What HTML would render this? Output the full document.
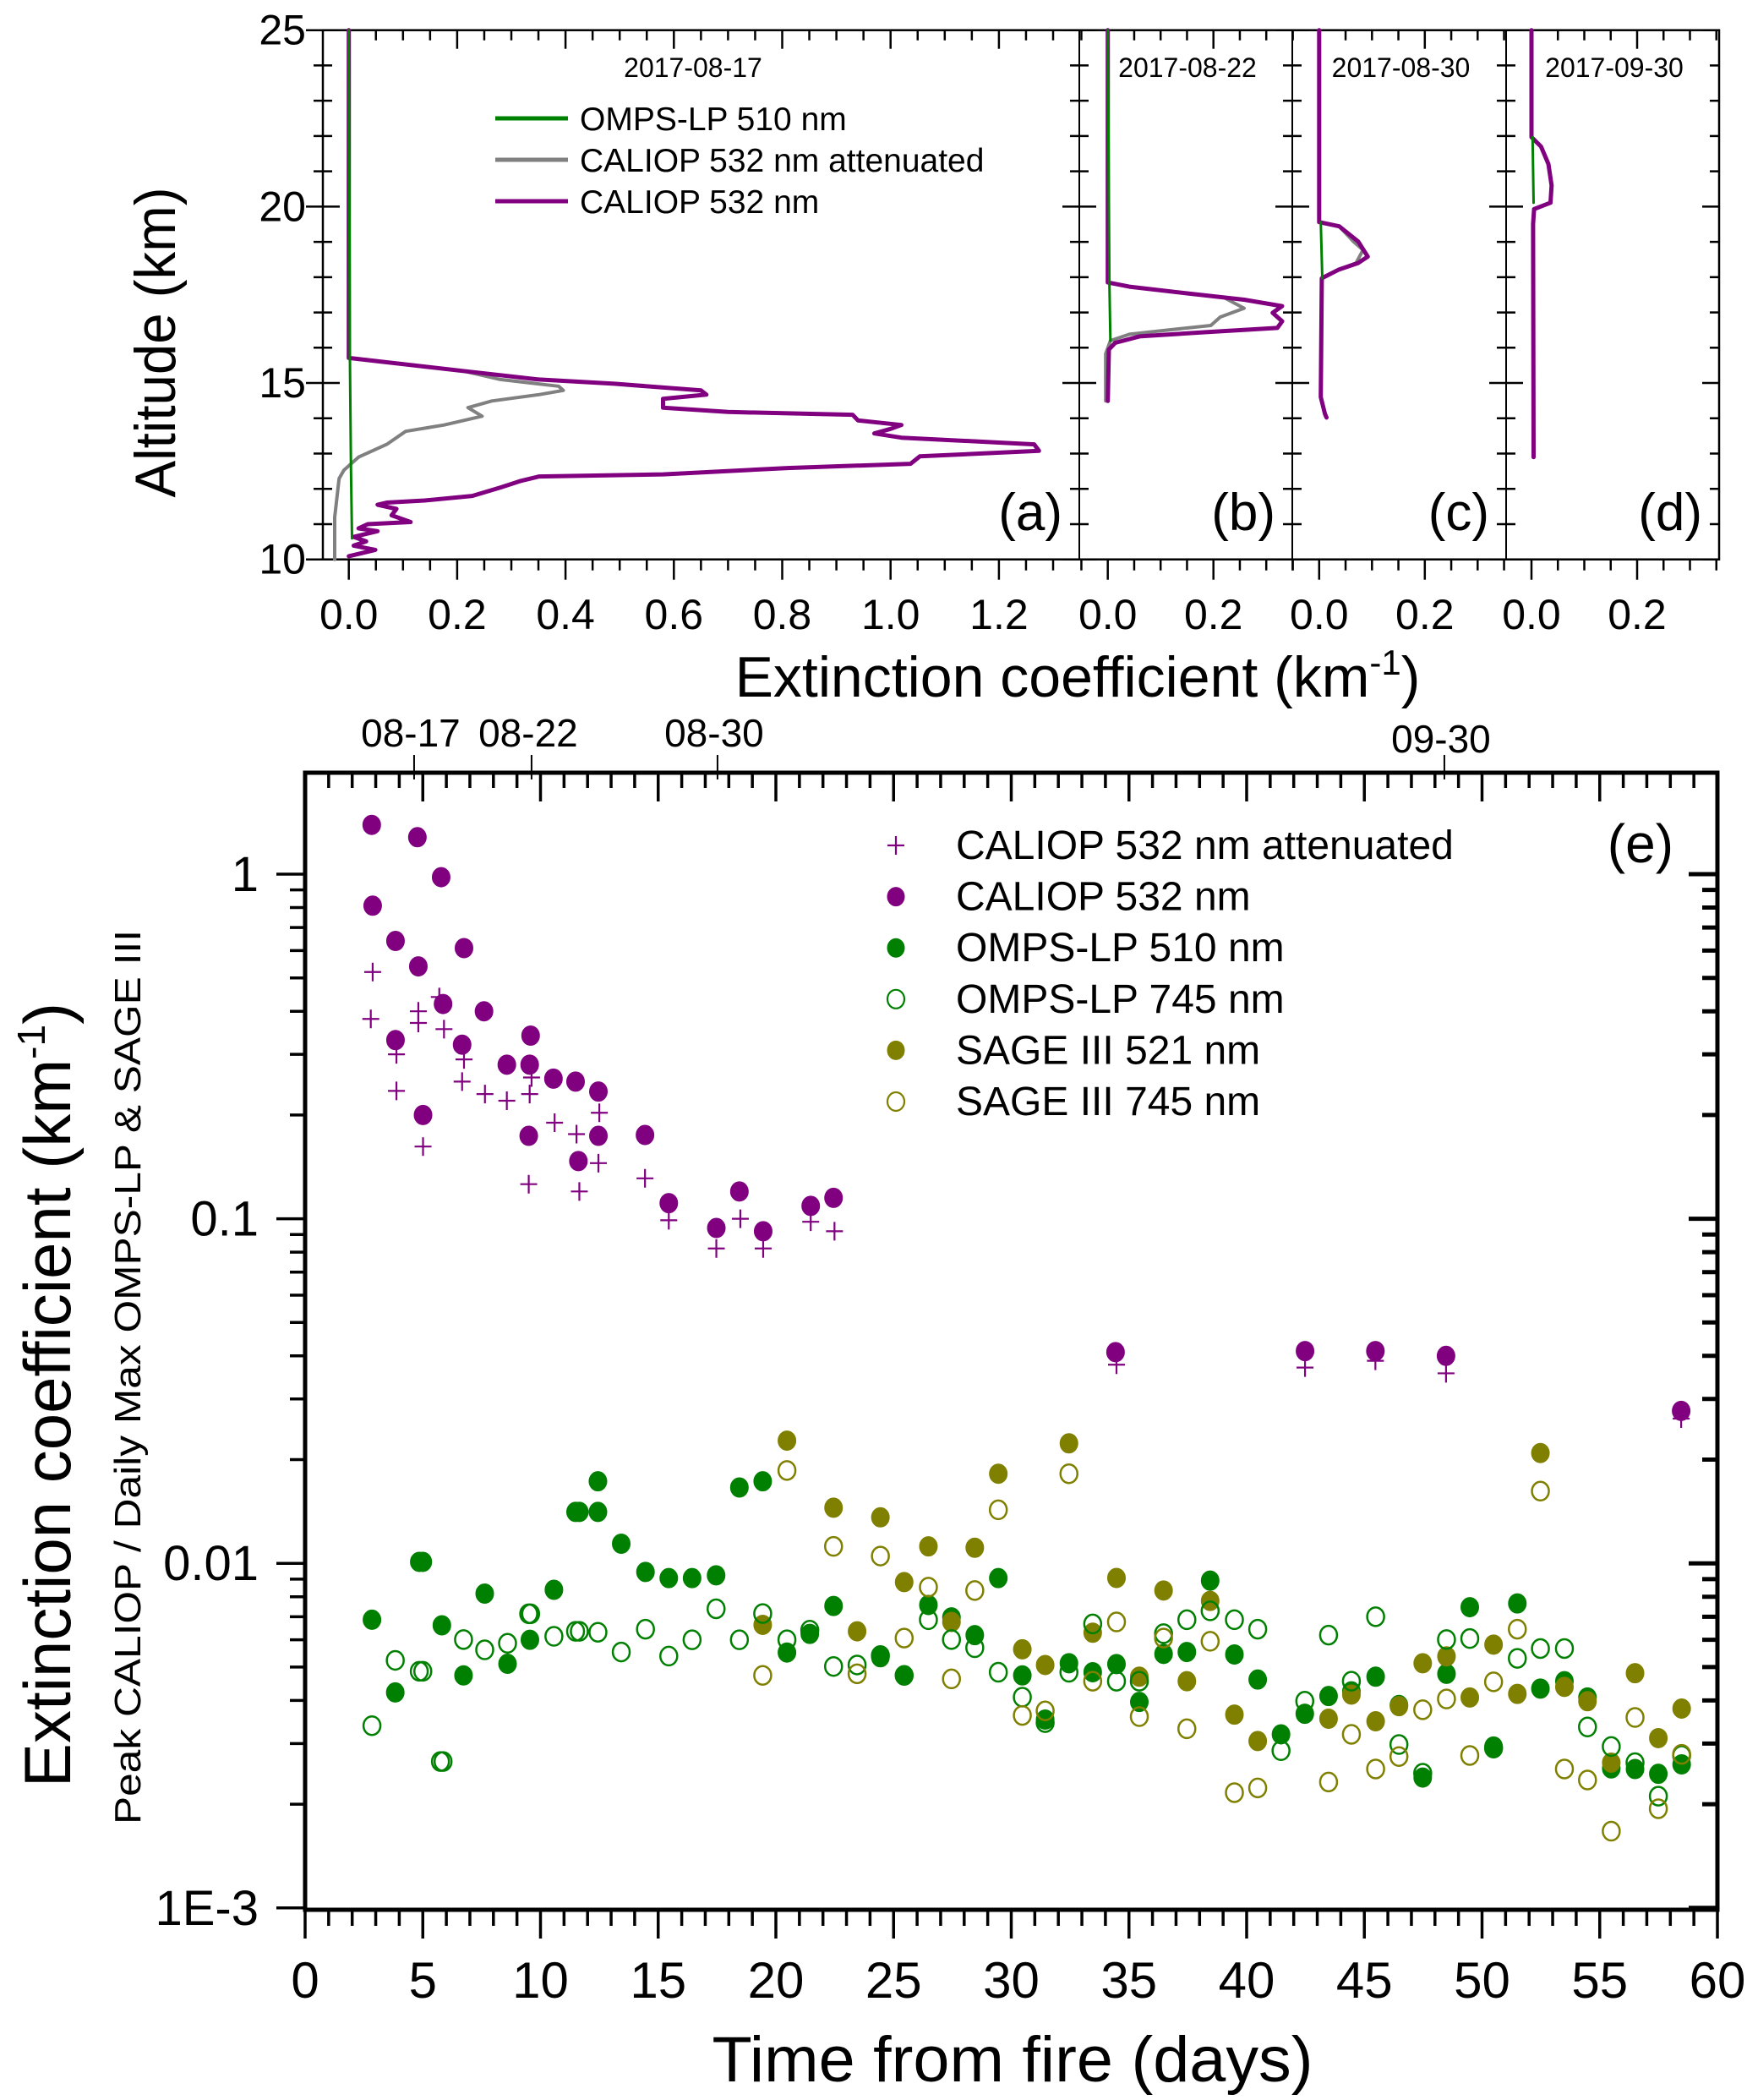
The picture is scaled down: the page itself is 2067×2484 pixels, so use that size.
<!DOCTYPE html>
<html><head><meta charset="utf-8"><title>Smoke extinction profiles and time series</title>
<style>
html,body{margin:0;padding:0;background:#fff;}
svg{display:block;font-family:"Liberation Sans",Arial,sans-serif;}
</style></head>
<body>
<svg id="fig" width="2067" height="2484" viewBox="0 0 2067 2484" xmlns="http://www.w3.org/2000/svg">
<rect x="0" y="0" width="2067" height="2484" fill="#fff"/>
<g id="topPanels"></g>
<g id="bottom"></g>
</svg>
<script>
// ---------- Top panel profile data (altitude km, extinction km^-1) ----------
const aCaliopAlt = [25,15.71,15.34,15.1,14.98,14.79,14.67,14.55,14.3,14.18,14.1,13.94,13.81,13.7,13.57,13.45,13.26,13.08,12.92,12.71,12.59,12.41,12.35,12.22,12.04,11.8,11.67,11.61,11.55,11.43,11.25,11.06,11.0,10.88,10.8,10.64,10.51,10.39,10.27,10.09];
const aCaliopExt = [0,0,0.211,0.351,0.49,0.65,0.66,0.58,0.58,0.70,0.93,0.94,1.02,1.0,0.97,1.02,1.265,1.274,1.054,1.037,0.81,0.58,0.351,0.316,0.28,0.228,0.14,0.07,0.053,0.088,0.079,0.114,0.035,0.018,0.053,0.009,0.032,0.009,0.049,0];
const aAttAlt = [15.71,15.34,15.1,14.91,14.79,14.67,14.49,14.3,14.06,13.81,13.63,13.26,12.9,12.53,12.29,11.19,10];
const aAttExt = [0,0.211,0.28,0.387,0.396,0.351,0.264,0.22,0.246,0.176,0.105,0.07,0.018,-0.009,-0.018,-0.026,-0.026];
const aOmpsAlt = [25,15.7,12.5,10.6];
const aOmpsExt = [0,0.002,0.004,0.006];
const bCaliopAlt = [25,17.85,17.73,17.54,17.36,17.18,16.99,16.75,16.56,16.44,16.32,16.14,15.95,14.49];
const bCaliopExt = [0,0,0.041,0.15,0.258,0.33,0.312,0.33,0.321,0.186,0.06,0.014,0.002,0];
const bAttAlt = [17.85,17.73,17.54,17.42,17.12,16.87,16.63,16.5,16.38,16.2,15.83,14.49];
const bAttExt = [0,0.041,0.15,0.22,0.258,0.213,0.195,0.114,0.041,0.005,-0.004,-0.004];
const bOmpsAlt = [25,17.85,16.2];
const bOmpsExt = [0,0.003,0.005];
const cCaliopAlt = [25,19.56,19.44,19.01,18.58,18.4,18.22,17.97,14.6,14.12,14.02];
const cCaliopExt = [0,0,0.038,0.074,0.092,0.074,0.038,0.005,0.003,0.011,0.014];
const cAttAlt = [19.44,19.01,18.77,18.4,18.22];
const cAttExt = [0.038,0.065,0.083,0.07,0.038];
const cOmpsAlt = [19.56,17.97];
const cOmpsExt = [0.003,0.006];
const dCaliopAlt = [25,21.97,21.7,21.21,20.6,20.11,19.93,19.5,12.9];
const dCaliopExt = [0,0,0.018,0.032,0.038,0.036,0.005,0.003,0.004];
const dOmpsAlt = [21.97,20.11];
const dOmpsExt = [0.002,0.004];
const panelDates = ["2017-08-17","2017-08-22","2017-08-30","2017-09-30"];
const panelLetters = ["(a)","(b)","(c)","(d)"];
const altTicks = [10,15,20,25];

// ---------- Bottom panel data ----------
const caliopDays = [2.83,2.87,3.84,4.77,4.81,5.78,5.86,6.75,3.84,6.67,5.01,7.60,8.57,9.58,9.54,9.50,10.55,11.49,12.46,12.46,11.61,14.44,15.45,17.47,18.45,19.46,21.48,22.45,34.43,42.48,45.47,48.47,58.46];
const caliopVals = [1.39,0.81,0.64,1.28,0.54,0.98,0.42,0.61,0.33,0.32,0.20,0.40,0.28,0.34,0.28,0.174,0.255,0.25,0.234,0.174,0.147,0.175,0.111,0.094,0.12,0.092,0.109,0.115,0.041,0.0413,0.0413,0.040,0.0277];
const attDays = [2.87,2.79,3.88,3.88,4.81,4.81,5.70,5.90,5.01,6.75,6.67,7.64,8.57,9.54,9.62,9.50,10.6,11.53,12.5,12.46,11.65,14.44,15.45,17.47,18.49,19.46,21.48,22.49,34.47,42.48,45.47,48.47,58.46];
const attVals = [0.52,0.38,0.30,0.235,0.40,0.37,0.44,0.355,0.162,0.29,0.25,0.23,0.22,0.23,0.257,0.126,0.19,0.176,0.203,0.145,0.12,0.131,0.099,0.082,0.100,0.082,0.098,0.092,0.0377,0.037,0.0387,0.0356,0.0263];
const omps510Days = [2.84,3.83,4.85,5.0,5.81,6.73,7.63,8.60,9.55,10.57,11.49,11.65,12.44,12.44,13.43,14.46,15.45,16.44,17.46,18.45,19.44,20.47,21.44,22.45,24.44,25.45,26.48,27.46,28.45,29.45,30.47,31.44,32.45,33.46,34.47,35.44,36.47,37.46,38.45,39.48,40.47,41.46,42.47,43.48,44.45,45.48,46.47,47.48,48.49,49.48,50.49,51.5,52.48,53.5,54.48,55.49,56.5,57.49,58.48];
const omps510Vals = [0.00686,0.00422,0.0101,0.0101,0.00661,0.00473,0.00817,0.00511,0.0060,0.00838,0.0141,0.0141,0.0141,0.0173,0.0114,0.00944,0.00906,0.00906,0.00923,0.0166,0.0173,0.00551,0.00624,0.00752,0.00534,0.00473,0.00757,0.00697,0.00619,0.00906,0.00473,0.00352,0.00513,0.00483,0.00510,0.00396,0.00546,0.00553,0.00891,0.00544,0.00460,0.00319,0.00366,0.00412,0.00425,0.00469,0.00388,0.00239,0.00478,0.00746,0.00294,0.00765,0.00433,0.00455,0.00408,0.00254,0.00253,0.00245,0.00261];
const omps745Days = [2.84,3.83,4.85,5.0,5.75,5.86,6.73,7.63,8.60,9.50,9.58,10.57,11.49,11.65,12.44,13.43,14.46,15.45,16.44,17.46,18.45,19.44,20.47,21.44,22.45,23.45,24.44,25.45,26.48,27.46,28.45,29.45,30.47,31.44,32.45,33.46,34.47,35.44,36.47,37.46,38.45,39.48,40.47,41.46,42.47,43.48,44.45,45.48,46.47,47.48,48.49,49.48,50.49,51.5,52.48,53.5,54.48,55.49,56.5,57.49,58.48];
const omps745Vals = [0.00338,0.00523,0.00486,0.00486,0.00266,0.00266,0.00601,0.00561,0.00586,0.00714,0.00714,0.00614,0.00635,0.00635,0.00631,0.00553,0.00644,0.00538,0.0060,0.00738,0.0060,0.00715,0.0060,0.0064,0.00502,0.00507,0.0054,0.00473,0.00686,0.00601,0.00569,0.00483,0.00409,0.00345,0.00483,0.00667,0.00455,0.00455,0.00625,0.00686,0.00728,0.00686,0.00644,0.00286,0.00398,0.00619,0.00455,0.00700,0.00298,0.00246,0.00601,0.00605,0.00291,0.0053,0.00566,0.00566,0.00335,0.00294,0.00264,0.00211,0.00277];
const sageDays = [19.44,20.47,22.45,23.45,24.44,25.45,26.48,27.46,28.45,29.45,30.47,31.44,32.45,33.46,34.47,35.44,36.47,37.46,38.45,39.48,40.47,43.48,44.45,45.48,46.47,47.48,48.49,49.48,50.49,51.5,52.48,53.5,54.48,55.49,56.5,57.49,58.48];
const sage521Vals = [0.00663,0.0227,0.0145,0.00635,0.0136,0.00882,0.0112,0.00676,0.0111,0.0182,0.00563,0.00507,0.0223,0.00629,0.00907,0.00469,0.00834,0.00455,0.00778,0.00364,0.00305,0.00354,0.00416,0.00348,0.00385,0.00513,0.00537,0.00408,0.00581,0.00418,0.0209,0.00438,0.00398,0.00264,0.0048,0.00311,0.00379];
const sage745Vals = [0.00473,0.0186,0.0112,0.00478,0.0105,0.00607,0.00853,0.00462,0.00834,0.0143,0.00362,0.00373,0.0182,0.00455,0.00676,0.00359,0.00607,0.00331,0.00594,0.00216,0.00223,0.00232,0.00319,0.00253,0.00275,0.00376,0.00404,0.00277,0.00453,0.00644,0.0162,0.00253,0.00235,0.00167,0.00357,0.00194,0.00279];
const xTickLabels = [0,5,10,15,20,25,30,35,40,45,50,55,60];
const yTickVals = [1,0.1,0.01,0.001];
const yTickLabels = ["1","0.1","0.01","1E-3"];
const dateLabels = ["08-17","08-22","08-30","09-30"];
const dateDays = [4.63,9.62,17.52,48.4];

const NS = "http://www.w3.org/2000/svg";
function mk(parent, tag, attrs){const e=document.createElementNS(NS,tag);for(const k in attrs)e.setAttribute(k,attrs[k]);parent.appendChild(e);return e;}
const PURPLE="#800080", GREEN="#008000", OLIVE="#808000", GRAY="#808080";

// ================= TOP PANELS =================
const topG = document.getElementById("topPanels");
const yTopA = 35.7, yBotA = 661.7;
function altY(a){return yBotA - (a-10)*(yBotA-yTopA)/15;}
const panels = [
 {left:382, right:1277, x0:412.7, k:641},
 {left:1277, right:1529, x0:1310.7, k:625},
 {left:1529, right:1782, x0:1560.8, k:625},
 {left:1782, right:2034, x0:1812, k:625}
];
function extX(p,e){return p.x0 + e*p.k;}

panels.forEach((p,i)=>{
  for(let s=-1; s<=28; s++){
    const ev=s*0.05, x=extX(p,ev);
    if(x<p.left-0.5||x>p.right+0.5) continue;
    const major = s%4===0;
    const t=mk(topG,"line",{x1:x,y1:yBotA,x2:x,y2:yBotA+(major?24:13),stroke:"#000","stroke-width":2.5});
    
    
    const t2=mk(topG,"line",{x1:x,y1:yTopA,x2:x,y2:yTopA+(major?22:12),stroke:"#000","stroke-width":2.5});
    
    
    if(major && s>=0){
      const lab=mk(topG,"text",{x:x,y:744,"font-size":50,"text-anchor":"middle",fill:"#000"});
      lab.textContent=ev.toFixed(1);
      
      
    }
  }
  for(let a=10;a<=25;a++){
    const y=altY(a), major=a%5===0;
    const t=mk(topG,"line",{x1:p.left-(major?20:11),y1:y,x2:p.left+(major?20:11),y2:y,stroke:"#000","stroke-width":2.5});
    
    
  }
  const d=mk(topG,"text",{x:(i===0?820:(p.left+p.right)/2+2),y:91,"font-size":32,"text-anchor":"middle",fill:"#000"});
  d.textContent=panelDates[i];
  
  
  const l=mk(topG,"text",{x:p.right-20,y:627,"font-size":62,"text-anchor":"end",fill:"#000"});
  l.textContent=panelLetters[i];
  
  
});
for(let a=10;a<=25;a++){
  const y=altY(a), major=a%5===0;
  const t=mk(topG,"line",{x1:2034-(major?20:11),y1:y,x2:2034,y2:y,stroke:"#000","stroke-width":2.5});
  
  
}
const frame=mk(topG,"rect",{x:382,y:yTopA,width:2034-382,height:yBotA-yTopA,fill:"none",stroke:"#000","stroke-width":2.5});


[1277,1529,1782].forEach(x=>{
  const ln=mk(topG,"line",{x1:x,y1:yTopA,x2:x,y2:yBotA,stroke:"#000","stroke-width":2});
  
  
});
altTicks.forEach(a=>{
  const t=mk(topG,"text",{x:362,y:altY(a)+17,"font-size":50,"text-anchor":"end",fill:"#000"});
  t.textContent=String(a);
  
  
});

function profile(pi, alts, exts, color, w, name){
  const p=panels[pi];
  const pts=alts.map((a,j)=>extX(p,exts[j]).toFixed(1)+","+altY(a).toFixed(1)).join(" ");
  const pl=mk(topG,"polyline",{points:pts,fill:"none",stroke:color,"stroke-width":w,"stroke-linejoin":"round","stroke-linecap":"round"});
  
  
}
profile(0,aAttAlt,aAttExt,GRAY,4,'profile-a-caliop-attenuated');
profile(0,aCaliopAlt,aCaliopExt,PURPLE,5,'profile-a-caliop');
profile(0,aOmpsAlt,aOmpsExt,GREEN,3,'profile-a-omps');
profile(1,bAttAlt,bAttExt,GRAY,4,'profile-b-caliop-attenuated');
profile(1,bCaliopAlt,bCaliopExt,PURPLE,5,'profile-b-caliop');
profile(1,bOmpsAlt,bOmpsExt,GREEN,3,'profile-b-omps');
profile(2,cAttAlt,cAttExt,GRAY,4,'profile-c-caliop-attenuated');
profile(2,cCaliopAlt,cCaliopExt,PURPLE,5,'profile-c-caliop');
profile(2,cOmpsAlt,cOmpsExt,GREEN,3,'profile-c-omps');
profile(3,dCaliopAlt,dCaliopExt,PURPLE,5,'profile-d-caliop');
profile(3,dOmpsAlt,dOmpsExt,GREEN,3,'profile-d-omps');

const topLeg=[["OMPS-LP 510 nm",GREEN],["CALIOP 532 nm attenuated",GRAY],["CALIOP 532 nm",PURPLE]];
topLeg.forEach((e,i)=>{
  const y=140+i*49;
  const ln=mk(topG,"line",{x1:586,y1:y,x2:672,y2:y,stroke:e[1],"stroke-width":5});
  
  
  const t=mk(topG,"text",{x:686,y:y+14,"font-size":39,fill:"#000"});
  t.textContent=e[0];
  
  
});

// ================= BOTTOM PANEL =================
const botG=document.getElementById("bottom");
const BX0=361, BX1=2032, BY0=914, BY1=2259;
function X(d){return BX0 + d*(BX1-BX0)/60;}
function Y(v){return 1034 - 407.6*Math.log10(v);}

for(let d=0; d<=60; d++){
  const x=X(d), major=d%5===0;
  const t=mk(botG,"line",{x1:x,y1:BY1,x2:x,y2:BY1+(major?34:19),stroke:"#000","stroke-width":3.5});
  
  
  const t2=mk(botG,"line",{x1:x,y1:BY0,x2:x,y2:BY0+(major?34:18),stroke:"#000","stroke-width":3.5});
  
  
}
xTickLabels.forEach(d=>{
  const t=mk(botG,"text",{x:X(d),y:2363,"font-size":60,"text-anchor":"middle",fill:"#000"});
  t.textContent=String(d);
  
  
});
for(let e=-3; e<=0; e++){
  for(let m=1;m<=9;m++){
    const v=m*Math.pow(10,e), y=Y(v);
    if(y<BY0||y>BY1+1) continue;
    const major=m===1;
    const t=mk(botG,"line",{x1:BX0-(major?34:18),y1:y,x2:BX0,y2:y,stroke:"#000","stroke-width":3.5});
    
    
    const t2=mk(botG,"line",{x1:BX1-(major?34:18),y1:y,x2:BX1,y2:y,stroke:"#000","stroke-width":5});
    
    
  }
}
yTickVals.forEach((v,i)=>{
  const t=mk(botG,"text",{x:306,y:Y(v)+20,"font-size":58,"text-anchor":"end",fill:"#000"});
  t.textContent=yTickLabels[i];
  
  
});
const bframe=mk(botG,"rect",{x:BX0,y:BY0,width:BX1-BX0,height:BY1-BY0,fill:"none",stroke:"#000","stroke-width":5});


dateLabels.forEach((s,i)=>{
  const x=X(dateDays[i]);
  const t=mk(botG,"line",{x1:x,y1:893,x2:x,y2:922,stroke:"#000","stroke-width":2});
  
  
  const l=mk(botG,"text",{x:x-4,y:(i===3?890:883),"font-size":46,"text-anchor":"middle",fill:"#000"});
  l.textContent=s;
  
  
});

function circles(days, vals, color, filled, name){
  days.forEach((d,i)=>{
    const c=mk(botG,"ellipse",{cx:X(d),cy:Y(vals[i]),rx:filled?10.5:10,ry:filled?11.5:11,fill:filled?color:"none",stroke:color,"stroke-width":filled?1:2.5});
    
    
  });
}
function plus(x,y,name){
  const g=mk(botG,"path",{d:`M${x-10},${y}H${x+10}M${x},${y-11}V${y+11}`,stroke:PURPLE,"stroke-width":2.2,fill:"none"});
  
  
}
circles(omps510Days, omps510Vals, GREEN, true, 'omps-510-point');
circles(sageDays, sage521Vals, OLIVE, true, 'sage-521-point');
circles(omps745Days, omps745Vals, GREEN, false, 'omps-745-point');
circles(sageDays, sage745Vals, OLIVE, false, 'sage-745-point');
attDays.forEach((d,i)=>plus(X(d),Y(attVals[i]),'caliop-attenuated-point'));
circles(caliopDays, caliopVals, PURPLE, true, 'caliop-532-point');

const legItems=[["CALIOP 532 nm attenuated","plus"],["CALIOP 532 nm",PURPLE,true],["OMPS-LP 510 nm",GREEN,true],["OMPS-LP 745 nm",GREEN,false],["SAGE III 521 nm",OLIVE,true],["SAGE III 745 nm",OLIVE,false]];
legItems.forEach((it,i)=>{
  const by=1016+i*60.6, cy=by-16;
  if(it[1]==="plus"){plus(1060,cy,'legend-marker');}
  else{
    const c=mk(botG,"ellipse",{cx:1060,cy:cy,rx:10,ry:11,fill:it[2]?it[1]:"none",stroke:it[1],"stroke-width":it[2]?1:2.2});
    
    
  }
  const t=mk(botG,"text",{x:1131,y:by,"font-size":48,fill:"#000"});
  t.textContent=it[0];
  
  
});
const eLab=mk(botG,"text",{x:1980,y:1020,"font-size":64,"text-anchor":"end",fill:"#000"});
eLab.textContent="(e)";



// axis titles
const figEl=document.getElementById("fig");
function title(attrs, html, name){
  const t=mk(figEl,"text",attrs);
  t.innerHTML=html;
  
  
  return t;
}
title({x:0,y:0,"font-size":68,fill:"#000","text-anchor":"middle",transform:"translate(207,405) rotate(-90)",textLength:367,lengthAdjust:"spacingAndGlyphs"},"Altitude (km)","altitude-axis-title");
title({x:1275,y:824,"font-size":68,fill:"#000","text-anchor":"middle"},"Extinction coefficient (km<tspan dy='-26' font-size='42'>-1</tspan><tspan dy='26'>)</tspan>","top-x-axis-title");
title({x:1198,y:2462,"font-size":76,fill:"#000","text-anchor":"middle",textLength:711,lengthAdjust:"spacingAndGlyphs"},"Time from fire (days)","bottom-x-axis-title");
title({x:0,y:0,"font-size":78,fill:"#000","text-anchor":"middle",transform:"translate(83,1650) rotate(-90)"},"Extinction coefficient (km<tspan dy='-30' font-size='46'>-1</tspan><tspan dy='30'>)</tspan>","bottom-y-axis-title");
title({x:0,y:0,"font-size":44,fill:"#000","text-anchor":"middle",transform:"translate(166,1629) rotate(-90)",textLength:1058,lengthAdjust:"spacingAndGlyphs"},"Peak CALIOP / Daily Max OMPS-LP &amp; SAGE III","bottom-y-axis-subtitle");
</script>
</body></html>
